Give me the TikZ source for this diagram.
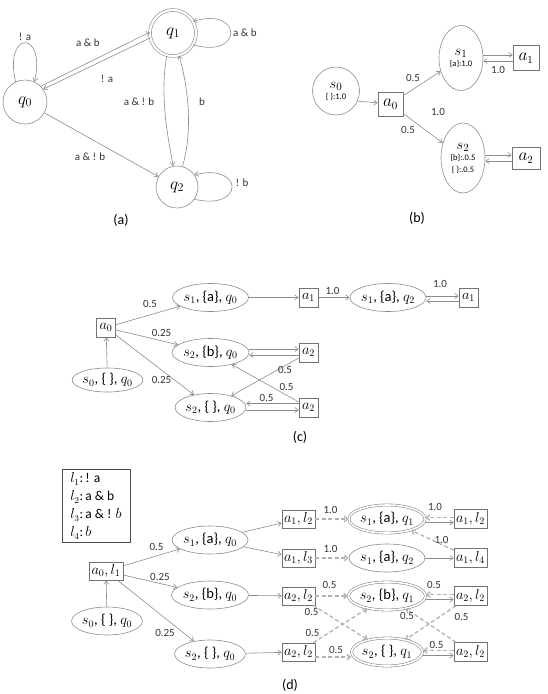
\documentclass[tikz,border=0pt]{standalone}
\usepackage{fontspec}
\setmainfont{Carlito}
\usetikzlibrary{arrows.meta,shapes.geometric}

\begin{document}
\begin{tikzpicture}[x=1pt,y=-1pt,
  gline/.style={draw=black!45, line width=0.6pt},
  edg/.style={gline, -{Straight Barb[length=3.5pt,width=5pt]}},
  dedg/.style={draw=black!30, line width=1.3pt, dash pattern=on 4pt off 2.5pt,
    -{Straight Barb[length=3.5pt,width=5.5pt]}},
  qst/.style={circle, gline, minimum size=44pt, inner sep=0pt, font=\fontsize{17}{18}\selectfont},
  qacc/.style={qst, double, double distance=2.2pt, minimum size=46pt},
  sbox/.style={rectangle, draw=black!55, line width=0.6pt, inner sep=0pt,
    minimum width=19pt, minimum height=19pt, font=\fontsize{14.5}{15}\selectfont},
  sell/.style={ellipse, gline, inner sep=0pt, minimum width=70pt, minimum height=28pt,
    font=\fontsize{14.5}{15}\selectfont},
  sdell/.style={sell, double, double distance=1.6pt},
  lbl/.style={inner sep=0pt, text=black!80, font=\fontsize{11}{12}\selectfont},
  capt/.style={inner sep=0pt, font=\fontsize{14}{15}\selectfont}
]
\useasboundingbox (0,0) rectangle (548,694);

% (a) автомат
\node[qst] (q0) at (25,102) {$q_0$};
\node[qacc] (q1) at (173,33) {$q_1$};
\node[qst, minimum size=42pt] (q2) at (177,187) {$q_2$};

\draw[edg] (q0.115) .. controls +(-12,-52) and +(12,-52) .. (q0.65);
\draw[edg] (q1.-30) .. controls +(50,15) and +(50,-15) .. (q1.30);
\draw[edg] (q2.-35) .. controls +(50,12) and +(50,-12) .. (q2.35);
\draw[edg] (q0.45) -- (q1.178);
\draw[edg] (q1.192) -- (q0.35);
\draw[edg] (q0) -- (q2);
\draw[edg] (q1.255) .. controls +(-7,35) and +(-7,-35) .. (q2.100);
\draw[edg] (q2.75) .. controls +(10,-35) and +(10,35) .. (q1.285);

\node[lbl] (la1) at (25,37) {! a};
\node[lbl] (la2) at (88,43) {a \& b};
\node[lbl] (la3) at (107,79) {! a};
\node[lbl] (la4) at (90,157) {a \& ! b};
\node[lbl] (la5) at (139,102) {a \& ! b};
\node[lbl] (la6) at (202,102) {b};
\node[lbl] (la7) at (245,33) {a \& b};
\node[lbl] (la8) at (242,183) {! b};
\node[capt] (capa) at (121,220) {(a)};

% (b) MDP
\node[sell, minimum width=47pt, minimum height=48pt, align=center,
  font=\fontsize{15}{15}\selectfont] (s0) at (336,91)
  {$s_0$\\[-4pt]{\fontsize{8.5}{10}\selectfont \{ \}:1.0}};
\node[sbox, minimum width=25pt, minimum height=24pt,
  font=\fontsize{16}{16}\selectfont] (a0) at (390.5,104) {$a_0$};
\node[sell, minimum width=44pt, minimum height=65pt, align=center,
  font=\fontsize{15}{15}\selectfont] (s1) at (461,58)
  {$s_1$\\[-4pt]{\fontsize{8.5}{10}\selectfont \{a\}:1.0}};
\node[sbox, minimum width=26pt, minimum height=25pt,
  font=\fontsize{16}{16}\selectfont] (a1) at (526,58) {$a_1$};
\node[sell, minimum width=44pt, minimum height=70pt, align=center,
  font=\fontsize{15}{15}\selectfont] (s2) at (463,158)
  {$s_2$\\[-4pt]{\fontsize{8.5}{10}\selectfont \{b\}:.0.5}\\[-3pt]{\fontsize{8.5}{10}\selectfont \{ \}:.0.5}};
\node[sbox, minimum width=28pt, minimum height=22pt,
  font=\fontsize{16}{16}\selectfont] (a2) at (526,158) {$a_2$};

\draw[edg] (s0.-25) -- (a0);
\draw[edg] (a0) -- (s1);
\draw[edg] (a0) -- (s2);
\draw[edg] ([yshift=3pt]s1.east) -- ([yshift=3pt]a1.west);
\draw[edg] ([yshift=-3pt]a1.west) -- ([yshift=-3pt]s1.east);
\draw[edg] ([yshift=3pt]s2.east) -- ([yshift=3pt]a2.west);
\draw[edg] ([yshift=-3pt]a2.west) -- ([yshift=-3pt]s2.east);

\node[lbl] (lb1) at (413,78) {0.5};
\node[lbl] (lb2) at (408,130) {0.5};
\node[lbl] (lb3) at (438,112) {1.0};
\node[lbl] (lb4) at (498,70) {1.0};
\node[capt] (capb) at (417,218) {(b)};

% (c) произведение
\node[sbox] (ca0) at (106,327.5) {$a_0$};
\node[sell, minimum height=24pt] (cs0) at (107.5,380) {$s_0$, \{ \}, $q_0$};
\node[sell] (cs1) at (210.5,297.5) {$s_1$, \{a\}, $q_0$};
\node[sbox] (ca1) at (308.5,297.5) {$a_1$};
\node[sell] (cs1q2) at (388,297.5) {$s_1$, \{a\}, $q_2$};
\node[sbox] (ca1b) at (468.5,297.5) {$a_1$};
\node[sell] (cs2b) at (210.5,352.5) {$s_2$, \{b\}, $q_0$};
\node[sbox] (ca2) at (308.5,352.5) {$a_2$};
\node[sell] (cs2) at (210.5,407.5) {$s_2$, \{ \}, $q_0$};
\node[sbox] (ca2b) at (308.5,407.5) {$a_2$};

\draw[edg] (cs0) -- (ca0);
\draw[edg] (ca0) -- (cs1);
\draw[edg] (ca0) -- (cs2b);
\draw[edg] (ca0) -- (cs2);
\draw[edg] (cs1) -- (ca1);
\draw[edg] (ca1) -- (cs1q2);
\draw[edg] ([yshift=1.5pt]cs1q2.east) -- ([yshift=1.5pt]ca1b.west);
\draw[edg] ([yshift=-3.5pt]ca1b.west) -- ([yshift=-3.5pt]cs1q2.east);
\draw[edg] ([yshift=3.5pt]cs2b.east) -- ([yshift=3.5pt]ca2.west);
\draw[edg] ([yshift=-2.5pt]ca2.west) -- ([yshift=-2.5pt]cs2b.east);
\draw[edg] ([yshift=4pt]ca2b.west) -- ([yshift=4pt]cs2.east);
\draw[edg] ([yshift=-2.5pt]cs2.east) -- ([yshift=-2.5pt]ca2b.west);
\draw[edg] (ca2) -- (cs2);
\draw[edg] (ca2b) -- (cs2b);

\node[lbl] (lc1) at (150,304) {0.5};
\node[lbl] (lc2) at (161.5,332.5) {0.25};
\node[lbl] (lc3) at (161.5,379.5) {0.25};
\node[lbl] (lc4) at (332.5,290.5) {1.0};
\node[lbl] (lc5) at (440,284) {1.0};
\node[lbl] (lc6) at (285,370) {0.5};
\node[lbl] (lc7) at (286.5,386.5) {0.5};
\node[lbl] (lc8) at (266.5,398) {0.5};
\node[capt] (capc) at (300,437) {(c)};

% (d) произведение с метками
\node[draw=black!70, line width=0.9pt, inner xsep=5pt, inner ysep=3pt, align=left,
  minimum width=68pt, minimum height=72pt,
  font=\fontsize{13.5}{18}\selectfont] (key) at (96,506)
  {$l_1$:\,! a\\ $l_2$:\,a \& b\\ $l_3$:\,a \& ! $b$\\ $l_4$:\,$b$};

\node[sbox, minimum width=34pt, minimum height=18pt] (da0) at (106,571) {$a_0, l_1$};
\node[sell] (ds0) at (107,621) {$s_0$, \{ \}, $q_0$};
\node[sell] (ds1q0) at (210,540) {$s_1$, \{a\}, $q_0$};
\node[sell] (ds2bq0) at (210,595) {$s_2$, \{b\}, $q_0$};
\node[sell] (ds2q0) at (210,654) {$s_2$, \{ \}, $q_0$};

\node[sbox, minimum width=33pt, minimum height=18pt] (da1l2) at (298.5,519) {$a_1, l_2$};
\node[sbox, minimum width=33pt, minimum height=18pt] (da1l3) at (298.5,558) {$a_1, l_3$};
\node[sbox, minimum width=33pt, minimum height=18pt] (da2l2) at (298.5,596) {$a_2, l_2$};
\node[sbox, minimum width=33pt, minimum height=18pt] (da2l2b) at (298.5,652) {$a_2, l_2$};

\node[sdell] (ds1q1) at (387,519) {$s_1$, \{a\}, $q_1$};
\node[sell] (ds1q2) at (387,558) {$s_1$, \{a\}, $q_2$};
\node[sdell] (ds2bq1) at (387,596) {$s_2$, \{b\}, $q_1$};
\node[sdell] (ds2q1) at (387,652) {$s_2$, \{ \}, $q_1$};

\node[sbox, minimum width=33pt, minimum height=19pt] (da1l2r) at (470.5,519) {$a_1, l_2$};
\node[sbox, minimum width=33pt, minimum height=19pt] (da1l4) at (470.5,558) {$a_1, l_4$};
\node[sbox, minimum width=33pt, minimum height=19pt] (da2l2r) at (470.5,596) {$a_2, l_2$};
\node[sbox, minimum width=33pt, minimum height=19pt] (da2l2rb) at (470.5,652) {$a_2, l_2$};

\draw[edg] (ds0) -- (da0);
\draw[edg] (da0) -- (ds1q0);
\draw[edg] (da0) -- (ds2bq0);
\draw[edg] (da0) -- (ds2q0);
\draw[edg] (ds1q0) -- (da1l2);
\draw[edg] (ds1q0) -- (da1l3);
\draw[edg] (ds2bq0) -- (da2l2);
\draw[edg] (ds2q0) -- (da2l2b);

\draw[dedg] (da1l2) -- (ds1q1);
\draw[dedg] (da1l3) -- (ds1q2);
\draw[dedg] (da2l2) -- (ds2bq1);
\draw[dedg] (da2l2) -- (ds2q1);
\draw[dedg] (da2l2b) -- (ds2bq1);
\draw[dedg] ([yshift=-5pt]da2l2b.east) -- ([yshift=-5pt]ds2q1.west);

\draw[dedg] ([yshift=1.5pt]da1l2r.west) -- ([yshift=1.5pt]ds1q1.east);
\draw[edg] ([yshift=-3.5pt]ds1q1.east) -- ([yshift=-3.5pt]da1l2r.west);
\draw[dedg] (da1l4) -- (ds1q1);
\draw[edg] (ds1q2) -- (da1l4);
\draw[dedg] ([yshift=1.5pt]da2l2r.west) -- ([yshift=1.5pt]ds2bq1.east);
\draw[edg] ([yshift=-3.5pt]ds2bq1.east) -- ([yshift=-3.5pt]da2l2r.west);
\draw[dedg] (da2l2r) -- (ds2q1);
\draw[dedg] (da2l2rb) -- (ds2bq1);
\draw[dedg] ([yshift=1.5pt]da2l2rb.west) -- ([yshift=1.5pt]ds2q1.east);
\draw[edg] ([yshift=-3.5pt]ds2q1.east) -- ([yshift=-3.5pt]da2l2rb.west);

\node[lbl] (ld1) at (156.5,546.5) {0.5};
\node[lbl] (ld2) at (160,576.5) {0.25};
\node[lbl] (ld3) at (165,633) {0.25};
\node[lbl] (ld4) at (330.5,510) {1.0};
\node[lbl] (ld5) at (330.5,549) {1.0};
\node[lbl] (ld6) at (329.5,585) {0.5};
\node[lbl] (ld7) at (311.5,611.5) {0.5};
\node[lbl] (ld8) at (312.5,633) {0.5};
\node[lbl] (ld9) at (336,650) {0.5};
\node[lbl] (ld10) at (435,506.5) {1.0};
\node[lbl] (ld11) at (441.5,539.5) {1.0};
\node[lbl] (ld12) at (434,585) {0.5};
\node[lbl] (ld13) at (461.5,616.5) {0.5};
\node[lbl] (ld14) at (407,616) {0.5};
\node[lbl] (ld15) at (436.5,645) {0.5};
\node[capt] (capd) at (290,685) {(d)};

\end{tikzpicture}
\end{document}
